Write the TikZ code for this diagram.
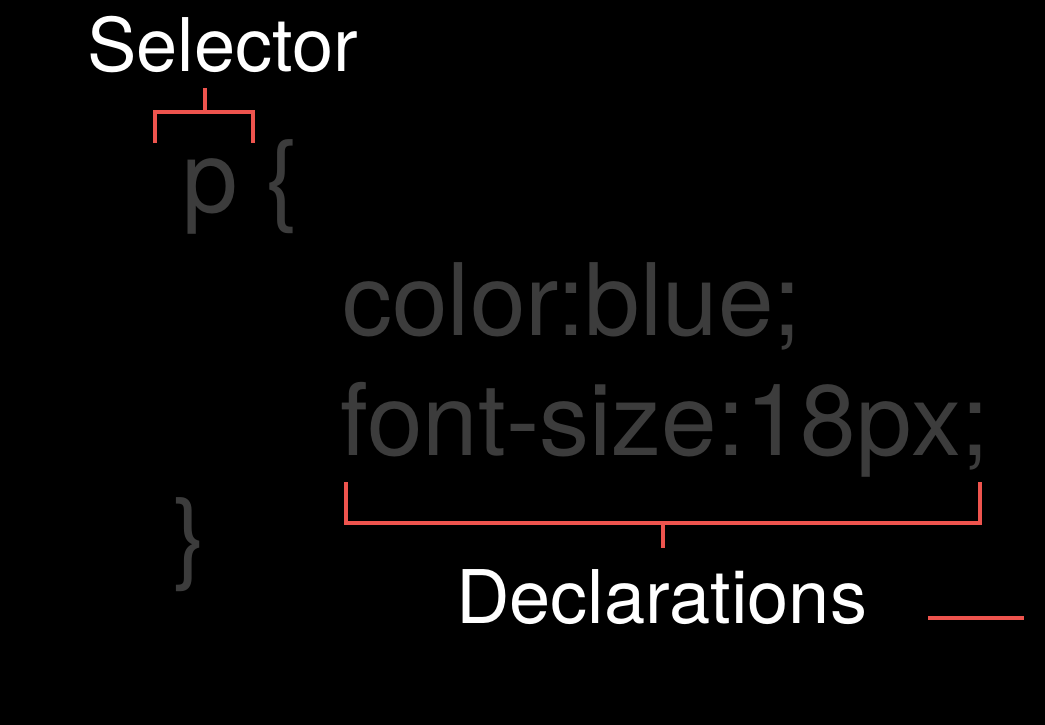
\documentclass[tikz,border=0pt]{standalone}
\usepackage{fontspec}
\setmainfont{TeX Gyre Heros}
\definecolor{codegray}{RGB}{60,60,60}
\definecolor{bracketred}{RGB}{238,84,78}
\tikzset{
  label/.style={text=white, inner sep=0pt, anchor=base west, font=\fontsize{74}{88}\selectfont},
  code/.style={text=codegray, inner sep=0pt, anchor=base west, font=\fontsize{100}{120}\selectfont},
  brk/.style={draw=bracketred, line width=4pt, line cap=butt, line join=miter}
}
\begin{document}
\begin{tikzpicture}[x=1pt,y=-1pt]
\fill[black] (0,0) rectangle (1045,725);
\useasboundingbox (0,0) rectangle (1045,725);
\node[label] (sel) at (87,72) {Selector};
\node[label] (decl) at (456,623) {Declarations};
\node[code] (popen) at (182,212) {p \{};
\node[code] (d1) at (342,335) {color:blue;};
\node[code] (d2) at (340,455) {font-size:18px;};
\node[code] (pclose) at (173,570) {\}};
% selector bracket
\draw[brk] (155,143) -- (155,112) -- (253,112) -- (253,143);
\draw[brk] (205,112) -- (205,88);
% declarations bracket
\draw[brk] (346,482) -- (346,523) -- (980,523) -- (980,482);
\draw[brk] (663,523) -- (663,548);
% small line
\draw[brk] (928,618) -- (1024,618);
\end{tikzpicture}
\end{document}
